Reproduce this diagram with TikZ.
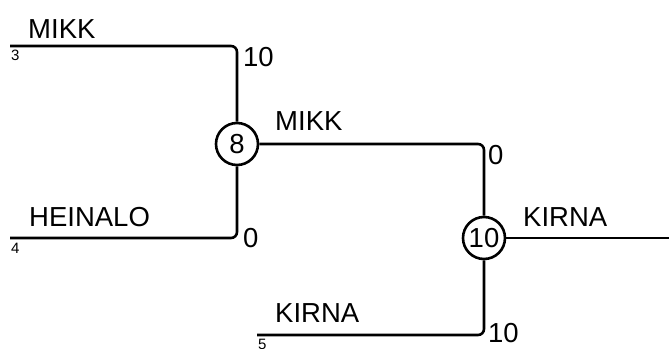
\documentclass[tikz,border=0pt]{standalone}
\usepackage{fontspec}
\setmainfont{Liberation Sans}
\begin{document}
\begin{tikzpicture}[x=1pt,y=-1pt,
  wire/.style={line width=2.6pt,rounded corners=6pt},
  lbl/.style={inner sep=0pt,font=\fontsize{27.5}{31}\selectfont},
  small/.style={inner sep=0pt,font=\fontsize{15}{17}\selectfont},
  team/.style={circle,draw,line width=2.6pt,minimum size=42pt,inner sep=0pt,font=\fontsize{27.5}{31}\selectfont}]
\useasboundingbox (0,0) rectangle (669,348);
\node[team] (c8) at (237,144) {8};
\node[team] (c10) at (484,238) {10};
\coordinate (s3) at (10,46);
\coordinate (s4) at (10,238);
\coordinate (s5) at (257,335);
\coordinate (out) at (669,238);
\draw[wire] (s3) -- (237,46) -- (c8.north);
\draw[wire] (s4) -- (237,238) -- (c8.south);
\draw[wire] (c8.east) -- (484,144) -- (c10.north);
\draw[wire] (s5) -- (484,335) -- (c10.south);
\draw[wire] (c10.east) -- (out);
\node[lbl,anchor=west] (t1) at (28,29) {MIKK};
\node[small,anchor=west] (n3) at (11,55) {3};
\node[lbl,anchor=west] (w1) at (243,57) {10};
\node[lbl,anchor=west] (t2) at (275,121) {MIKK};
\node[lbl,anchor=west] (w2) at (488,155) {0};
\node[lbl,anchor=west] (t3) at (29,217) {HEINALO};
\node[small,anchor=west] (n4) at (11,248) {4};
\node[lbl,anchor=west] (w3) at (243,238) {0};
\node[lbl,anchor=west] (t4) at (523,217) {KIRNA};
\node[lbl,anchor=west] (t5) at (275,313) {KIRNA};
\node[lbl,anchor=west] (w4) at (488,333) {10};
\node[small,anchor=west] (n5) at (258,344) {5};
\end{tikzpicture}
\end{document}
